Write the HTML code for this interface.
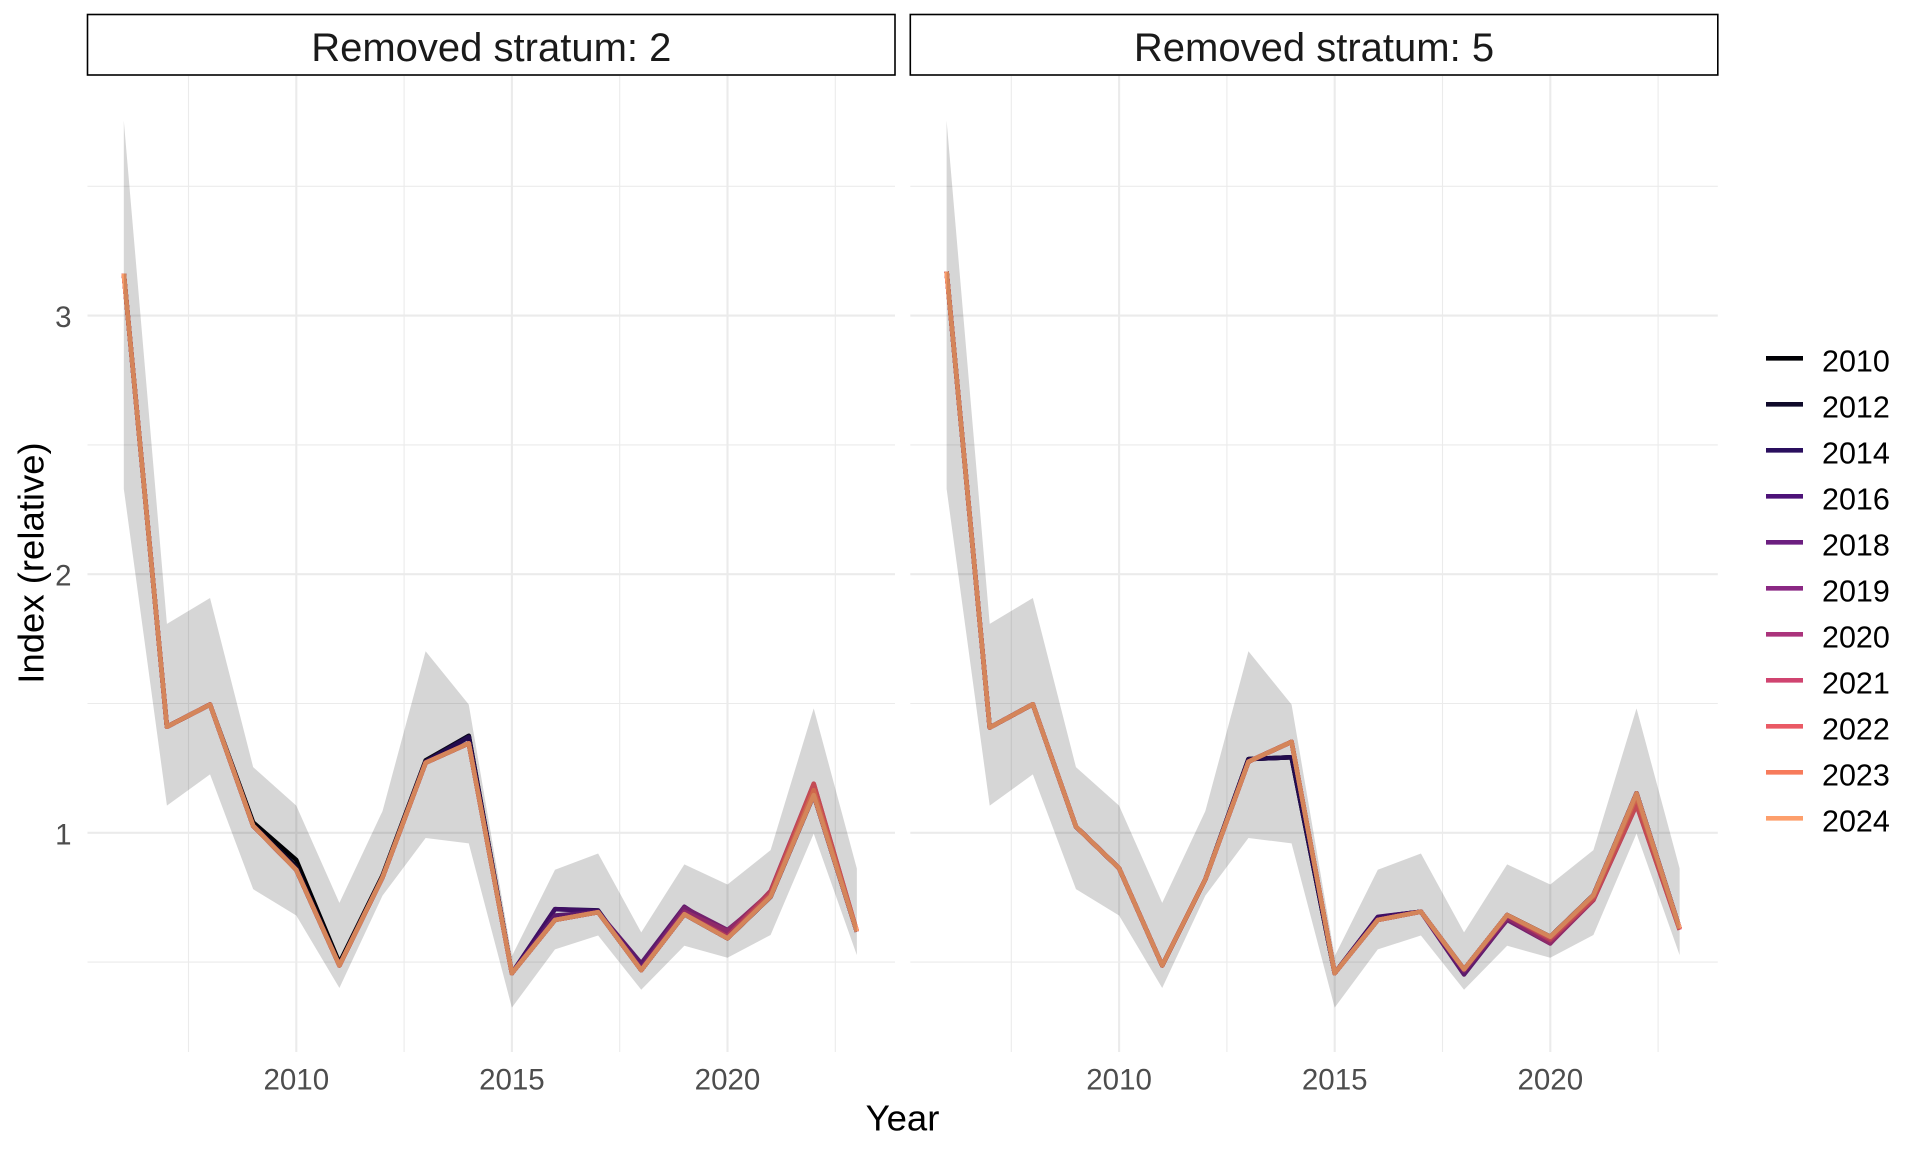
<!DOCTYPE html>
<html>
<head>
<meta charset="utf-8">
<style>
  html, body { margin: 0; padding: 0; background: #ffffff; }
  svg { display: block; }
  text { font-family: "Liberation Sans", Arial, sans-serif; }
</style>
</head>
<body>
<svg width="1920" height="1152" viewBox="0 0 1920 1152" xmlns="http://www.w3.org/2000/svg">
  <rect x="0" y="0" width="1920" height="1152" fill="#ffffff"/>

  <!-- ================= PANEL 1 GRID ================= -->
  <g stroke="#ebebeb" fill="none">
    <!-- minor horizontals -->
    <g stroke-width="1.1">
      <line x1="87.5" x2="895" y1="962.1" y2="962.1"/>
      <line x1="87.5" x2="895" y1="703.5" y2="703.5"/>
      <line x1="87.5" x2="895" y1="444.9" y2="444.9"/>
      <line x1="87.5" x2="895" y1="186.3" y2="186.3"/>
      <!-- minor verticals -->
      <line x1="188.5" x2="188.5" y1="76" y2="1052"/>
      <line x1="404.1" x2="404.1" y1="76" y2="1052"/>
      <line x1="619.7" x2="619.7" y1="76" y2="1052"/>
      <line x1="835.3" x2="835.3" y1="76" y2="1052"/>
    </g>
    <g stroke-width="2.1">
      <line x1="87.5" x2="895" y1="832.8" y2="832.8"/>
      <line x1="87.5" x2="895" y1="574.2" y2="574.2"/>
      <line x1="87.5" x2="895" y1="315.6" y2="315.6"/>
      <line x1="296.3" x2="296.3" y1="76" y2="1052"/>
      <line x1="511.9" x2="511.9" y1="76" y2="1052"/>
      <line x1="727.5" x2="727.5" y1="76" y2="1052"/>
    </g>
  </g>

  <!-- ================= PANEL 2 GRID ================= -->
  <g stroke="#ebebeb" fill="none" transform="translate(822.8,0)">
    <g stroke-width="1.1">
      <line x1="87.5" x2="895" y1="962.1" y2="962.1"/>
      <line x1="87.5" x2="895" y1="703.5" y2="703.5"/>
      <line x1="87.5" x2="895" y1="444.9" y2="444.9"/>
      <line x1="87.5" x2="895" y1="186.3" y2="186.3"/>
      <line x1="188.5" x2="188.5" y1="76" y2="1052"/>
      <line x1="404.1" x2="404.1" y1="76" y2="1052"/>
      <line x1="619.7" x2="619.7" y1="76" y2="1052"/>
      <line x1="835.3" x2="835.3" y1="76" y2="1052"/>
    </g>
    <g stroke-width="2.1">
      <line x1="87.5" x2="895" y1="832.8" y2="832.8"/>
      <line x1="87.5" x2="895" y1="574.2" y2="574.2"/>
      <line x1="87.5" x2="895" y1="315.6" y2="315.6"/>
      <line x1="296.3" x2="296.3" y1="76" y2="1052"/>
      <line x1="511.9" x2="511.9" y1="76" y2="1052"/>
      <line x1="727.5" x2="727.5" y1="76" y2="1052"/>
    </g>
  </g>

  <!-- ================= PANEL 1 DATA ================= -->
  <g transform="matrix(43.12 0 0 -258.6 123.8 1091.4)" fill="none" stroke-linejoin="round" stroke-linecap="butt">
    <g stroke-width="4.5" style="vector-effect:non-scaling-stroke">
      <polyline vector-effect="non-scaling-stroke" stroke-width="4.5" stroke="#000004" points="0,3.162 1,1.41 2,1.496 3,1.04 4,0.895 5,0.497 6,0.835 7,1.28 8,1.375 9,0.457 10,0.663 11,0.693 12,0.469 13,0.685 14,0.592 15,0.753 16,1.146 17,0.618"/>
      <polyline vector-effect="non-scaling-stroke" stroke-width="4.5" stroke="#0f0a2a" points="0,3.162 1,1.41 2,1.496 3,1.03 4,0.87 5,0.49 6,0.83 7,1.278 8,1.375 9,0.457 10,0.67 11,0.693 12,0.469 13,0.685 14,0.592 15,0.753 16,1.146 17,0.618"/>
      <polyline vector-effect="non-scaling-stroke" stroke-width="4.5" stroke="#2a0f5e" points="0,3.162 1,1.41 2,1.496 3,1.027 4,0.857 5,0.487 6,0.828 7,1.275 8,1.37 9,0.457 10,0.705 11,0.70 12,0.469 13,0.685 14,0.592 15,0.753 16,1.146 17,0.618"/>
      <polyline vector-effect="non-scaling-stroke" stroke-width="4.5" stroke="#4d1278" points="0,3.162 1,1.41 2,1.496 3,1.027 4,0.857 5,0.487 6,0.828 7,1.271 8,1.346 9,0.457 10,0.705 11,0.697 12,0.469 13,0.685 14,0.592 15,0.753 16,1.146 17,0.618"/>
      <polyline vector-effect="non-scaling-stroke" stroke-width="4.5" stroke="#6c1f80" points="0,3.162 1,1.41 2,1.496 3,1.027 4,0.857 5,0.487 6,0.828 7,1.271 8,1.346 9,0.457 10,0.68 11,0.693 12,0.495 13,0.714 14,0.605 15,0.753 16,1.146 17,0.618"/>
      <polyline vector-effect="non-scaling-stroke" stroke-width="4.5" stroke="#8a2883" points="0,3.162 1,1.41 2,1.496 3,1.027 4,0.857 5,0.487 6,0.828 7,1.271 8,1.346 9,0.457 10,0.663 11,0.693 12,0.475 13,0.71 14,0.624 15,0.76 16,1.146 17,0.618"/>
      <polyline vector-effect="non-scaling-stroke" stroke-width="4.5" stroke="#ab337c" points="0,3.162 1,1.41 2,1.496 3,1.027 4,0.857 5,0.487 6,0.828 7,1.271 8,1.346 9,0.457 10,0.663 11,0.693 12,0.469 13,0.695 14,0.62 15,0.77 16,1.16 17,0.618"/>
      <polyline vector-effect="non-scaling-stroke" stroke-width="4.5" stroke="#d04470" points="0,3.162 1,1.41 2,1.496 3,1.027 4,0.857 5,0.487 6,0.828 7,1.271 8,1.346 9,0.457 10,0.663 11,0.693 12,0.469 13,0.685 14,0.6 15,0.775 16,1.19 17,0.62"/>
      <polyline vector-effect="non-scaling-stroke" stroke-width="4.5" stroke="#ea5a65" points="0,3.162 1,1.41 2,1.496 3,1.027 4,0.857 5,0.487 6,0.828 7,1.271 8,1.346 9,0.457 10,0.663 11,0.693 12,0.469 13,0.685 14,0.592 15,0.765 16,1.19 17,0.62"/>
      <polyline vector-effect="non-scaling-stroke" stroke-width="4.5" stroke="#f77b5b" points="0,3.162 1,1.41 2,1.496 3,1.027 4,0.857 5,0.487 6,0.828 7,1.271 8,1.346 9,0.457 10,0.663 11,0.693 12,0.469 13,0.685 14,0.592 15,0.755 16,1.165 17,0.62"/>
      <polyline vector-effect="non-scaling-stroke" stroke-width="4.5" stroke="#fd9f6c" points="0,3.162 1,1.41 2,1.496 3,1.027 4,0.857 5,0.487 6,0.828 7,1.271 8,1.346 9,0.457 10,0.663 11,0.693 12,0.469 13,0.685 14,0.592 15,0.753 16,1.146 17,0.618"/>
    </g>
    <polygon fill="#000000" fill-opacity="0.16" stroke="none" points="0,3.754 1,1.808 2,1.908 3,1.254 4,1.105 5,0.729 6,1.084 7,1.702 8,1.496 9,0.523 10,0.857 11,0.92 12,0.615 13,0.878 14,0.8 15,0.933 16,1.481 17,0.862 17,0.527 16,0.997 15,0.605 14,0.517 13,0.563 12,0.393 11,0.603 10,0.549 9,0.324 8,0.959 7,0.98 6,0.757 5,0.4 4,0.68 3,0.782 2,1.226 1,1.105 0,2.33"/>
  </g>

  <!-- ================= PANEL 2 DATA ================= -->
  <g transform="matrix(43.12 0 0 -258.6 946.6 1091.4)" fill="none" stroke-linejoin="round" stroke-linecap="butt">
    <polyline vector-effect="non-scaling-stroke" stroke-width="4.5" stroke="#000004" points="0,3.17 1,1.407 2,1.497 3,1.024 4,0.863 5,0.487 6,0.82 7,1.285 8,1.292 9,0.457 10,0.673 11,0.695 12,0.472 13,0.682 14,0.598 15,0.759 16,1.153 17,0.63"/>
    <polyline vector-effect="non-scaling-stroke" stroke-width="4.5" stroke="#0f0a2a" points="0,3.17 1,1.407 2,1.497 3,1.024 4,0.863 5,0.487 6,0.82 7,1.285 8,1.292 9,0.457 10,0.673 11,0.695 12,0.472 13,0.682 14,0.598 15,0.759 16,1.153 17,0.63"/>
    <polyline vector-effect="non-scaling-stroke" stroke-width="4.5" stroke="#2a0f5e" points="0,3.17 1,1.407 2,1.497 3,1.024 4,0.863 5,0.487 6,0.82 7,1.285 8,1.292 9,0.457 10,0.673 11,0.695 12,0.472 13,0.682 14,0.598 15,0.759 16,1.153 17,0.63"/>
    <polyline vector-effect="non-scaling-stroke" stroke-width="4.5" stroke="#4d1278" points="0,3.17 1,1.407 2,1.497 3,1.024 4,0.863 5,0.487 6,0.82 7,1.275 8,1.352 9,0.457 10,0.675 11,0.695 12,0.46 13,0.675 14,0.598 15,0.759 16,1.153 17,0.63"/>
    <polyline vector-effect="non-scaling-stroke" stroke-width="4.5" stroke="#6c1f80" points="0,3.17 1,1.407 2,1.497 3,1.024 4,0.863 5,0.487 6,0.82 7,1.275 8,1.352 9,0.457 10,0.663 11,0.695 12,0.452 13,0.665 14,0.585 15,0.759 16,1.153 17,0.63"/>
    <polyline vector-effect="non-scaling-stroke" stroke-width="4.5" stroke="#8a2883" points="0,3.17 1,1.407 2,1.497 3,1.024 4,0.863 5,0.487 6,0.82 7,1.275 8,1.352 9,0.457 10,0.663 11,0.695 12,0.465 13,0.663 14,0.572 15,0.75 16,1.153 17,0.63"/>
    <polyline vector-effect="non-scaling-stroke" stroke-width="4.5" stroke="#ab337c" points="0,3.17 1,1.407 2,1.497 3,1.024 4,0.863 5,0.487 6,0.82 7,1.275 8,1.352 9,0.457 10,0.663 11,0.695 12,0.472 13,0.672 14,0.573 15,0.74 16,1.13 17,0.63"/>
    <polyline vector-effect="non-scaling-stroke" stroke-width="4.5" stroke="#d04470" points="0,3.17 1,1.407 2,1.497 3,1.024 4,0.863 5,0.487 6,0.82 7,1.275 8,1.352 9,0.457 10,0.663 11,0.695 12,0.472 13,0.682 14,0.585 15,0.74 16,1.107 17,0.625"/>
    <polyline vector-effect="non-scaling-stroke" stroke-width="4.5" stroke="#ea5a65" points="0,3.17 1,1.407 2,1.497 3,1.024 4,0.863 5,0.487 6,0.82 7,1.275 8,1.352 9,0.457 10,0.663 11,0.695 12,0.472 13,0.682 14,0.592 15,0.745 16,1.11 17,0.625"/>
    <polyline vector-effect="non-scaling-stroke" stroke-width="4.5" stroke="#f77b5b" points="0,3.17 1,1.407 2,1.497 3,1.024 4,0.863 5,0.487 6,0.82 7,1.275 8,1.352 9,0.457 10,0.663 11,0.695 12,0.472 13,0.682 14,0.598 15,0.755 16,1.14 17,0.63"/>
    <polyline vector-effect="non-scaling-stroke" stroke-width="4.5" stroke="#fd9f6c" points="0,3.17 1,1.407 2,1.497 3,1.024 4,0.863 5,0.487 6,0.82 7,1.275 8,1.352 9,0.457 10,0.663 11,0.695 12,0.472 13,0.682 14,0.598 15,0.759 16,1.153 17,0.63"/>
    <polygon fill="#000000" fill-opacity="0.16" stroke="none" points="0,3.754 1,1.808 2,1.908 3,1.254 4,1.105 5,0.729 6,1.084 7,1.702 8,1.496 9,0.523 10,0.857 11,0.92 12,0.615 13,0.878 14,0.8 15,0.933 16,1.481 17,0.862 17,0.527 16,0.997 15,0.605 14,0.517 13,0.563 12,0.393 11,0.603 10,0.549 9,0.324 8,0.959 7,0.98 6,0.757 5,0.4 4,0.68 3,0.782 2,1.226 1,1.105 0,2.33"/>
  </g>

  <!-- ================= STRIPS ================= -->
  <rect x="87.5" y="14.5" width="807.5" height="60.5" fill="#ffffff" stroke="#000000" stroke-width="1.6"/>
  <rect x="910.3" y="14.5" width="807.5" height="60.5" fill="#ffffff" stroke="#000000" stroke-width="1.6"/>
  <text x="491.3" y="61" font-size="40" fill="#1a1a1a" text-anchor="middle">Removed stratum: 2</text>
  <text x="1314" y="61" font-size="40" fill="#1a1a1a" text-anchor="middle">Removed stratum: 5</text>

  <!-- ================= AXIS TICK LABELS ================= -->
  <g font-size="29.5" fill="#4d4d4d">
    <text x="71.5" y="844.3" text-anchor="end">1</text>
    <text x="71.5" y="585.7" text-anchor="end">2</text>
    <text x="71.5" y="327.1" text-anchor="end">3</text>

    <text x="296.3" y="1089.5" text-anchor="middle">2010</text>
    <text x="511.9" y="1089.5" text-anchor="middle">2015</text>
    <text x="727.5" y="1089.5" text-anchor="middle">2020</text>

    <text x="1119.1" y="1089.5" text-anchor="middle">2010</text>
    <text x="1334.7" y="1089.5" text-anchor="middle">2015</text>
    <text x="1550.3" y="1089.5" text-anchor="middle">2020</text>
  </g>

  <!-- ================= AXIS TITLES ================= -->
  <text x="902.5" y="1130.5" font-size="36.5" fill="#000000" text-anchor="middle">Year</text>
  <text transform="translate(43.3,563) rotate(-90)" x="0" y="0" font-size="36.5" fill="#000000" text-anchor="middle">Index (relative)</text>

  <!-- ================= LEGEND ================= -->
  <g stroke-width="4.7" stroke-linecap="butt">
    <line x1="1766" x2="1803" y1="358.3" y2="358.3" stroke="#000004"/>
    <line x1="1766" x2="1803" y1="404.3" y2="404.3" stroke="#0f0a2a"/>
    <line x1="1766" x2="1803" y1="450.3" y2="450.3" stroke="#2a0f5e"/>
    <line x1="1766" x2="1803" y1="496.3" y2="496.3" stroke="#4d1278"/>
    <line x1="1766" x2="1803" y1="542.3" y2="542.3" stroke="#6c1f80"/>
    <line x1="1766" x2="1803" y1="588.3" y2="588.3" stroke="#8a2883"/>
    <line x1="1766" x2="1803" y1="634.3" y2="634.3" stroke="#ab337c"/>
    <line x1="1766" x2="1803" y1="680.3" y2="680.3" stroke="#d04470"/>
    <line x1="1766" x2="1803" y1="726.3" y2="726.3" stroke="#ea5a65"/>
    <line x1="1766" x2="1803" y1="772.3" y2="772.3" stroke="#f77b5b"/>
    <line x1="1766" x2="1803" y1="818.3" y2="818.3" stroke="#fd9f6c"/>
  </g>
  <g font-size="30.5" fill="#000000">
    <text x="1822" y="371.3">2010</text>
    <text x="1822" y="417.3">2012</text>
    <text x="1822" y="463.3">2014</text>
    <text x="1822" y="509.3">2016</text>
    <text x="1822" y="555.3">2018</text>
    <text x="1822" y="601.3">2019</text>
    <text x="1822" y="647.3">2020</text>
    <text x="1822" y="693.3">2021</text>
    <text x="1822" y="739.3">2022</text>
    <text x="1822" y="785.3">2023</text>
    <text x="1822" y="831.3">2024</text>
  </g>
</svg>
</body>
</html>
